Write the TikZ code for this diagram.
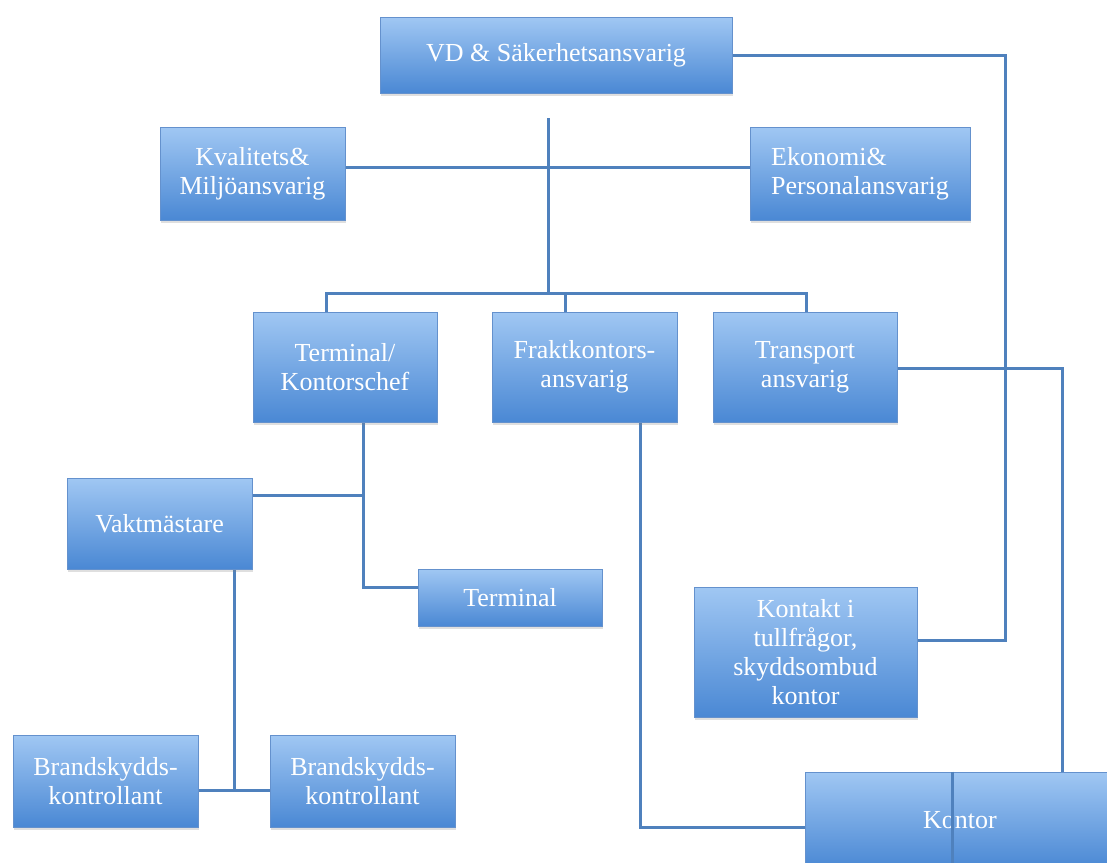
\documentclass[tikz,border=0pt]{standalone}
\usepackage{fontspec}
\setmainfont{Liberation Serif}
\usetikzlibrary{shadows}
\pgfdeclarelayer{background}
\pgfsetlayers{background,main}
\definecolor{boxtop}{RGB}{160,199,243}
\definecolor{boxbot}{RGB}{74,136,212}
\definecolor{boxline}{RGB}{100,145,205}
\definecolor{conncol}{RGB}{79,129,189}
\tikzset{
  orgbox/.style={rectangle, draw=boxline, line width=0.6pt,
    top color=boxtop, bottom color=boxbot, text=white,
    font=\fontsize{26}{29}\selectfont, align=center, inner sep=0pt,
    drop shadow={shadow xshift=1pt, shadow yshift=-3pt, opacity=0.25}},
  connector/.style={draw=conncol, line width=3pt},
}
\begin{document}
\begin{tikzpicture}[x=1pt, y=-1pt]
\useasboundingbox (0,0) rectangle (1107,862);
\clip (0,0) rectangle (1107,862);
% boxes
\node[orgbox, minimum width=352pt, minimum height=76pt] (vd) at (556,55) {VD \& Säkerhetsansvarig};
\node[orgbox, minimum width=185pt, minimum height=93pt] (kval) at (252.5,173.5) {Kvalitets\&\\Miljöansvarig};
\node[orgbox, minimum width=220pt, minimum height=93pt, align=left] (ekon) at (860,173.5) {Ekonomi\&\\Personalansvarig};
\node[orgbox, minimum width=184pt, minimum height=110pt] (tk) at (345,367) {Terminal/\\Kontorschef};
\node[orgbox, minimum width=185pt, minimum height=110pt] (frakt) at (584.5,367) {Fraktkontors-\\ansvarig};
\node[orgbox, minimum width=184pt, minimum height=110pt] (trans) at (805,367) {Transport\\ansvarig};
\node[orgbox, minimum width=185pt, minimum height=91pt] (vakt) at (159.5,523.5) {Vaktmästare};
\node[orgbox, minimum width=184pt, minimum height=57pt] (term) at (510,597.5) {Terminal};
\node[orgbox, minimum width=223pt, minimum height=130pt] (kontakt) at (805.5,652) {Kontakt i\\tullfrågor,\\skyddsombud\\kontor};
\node[orgbox, minimum width=185pt, minimum height=92pt] (b1) at (105.5,781) {Brandskydds-\\kontrollant};
\node[orgbox, minimum width=185pt, minimum height=92pt] (b2) at (362.5,781) {Brandskydds-\\kontrollant};
\node[orgbox, minimum width=310pt, minimum height=96pt] (kontor) at (960,820) {Kontor};
% junction coordinates
\coordinate (vdcorner) at (1005,55);
\coordinate (spinetop) at (548,118);
\coordinate (spinebot) at (548,293);
\coordinate (busL) at (326,293);
\coordinate (busR) at (806,293);
\coordinate (busM) at (565,293);
\coordinate (tkjoin) at (363,495);
\coordinate (brjoin) at (234,790);
\begin{pgfonlayer}{background}
\draw[connector] (vd.east) -- (vdcorner) |- (kontakt.east |- 0,640);
\draw[connector] (spinetop) -- (spinebot);
\draw[connector] (kval.east |- 0,167) -- (ekon.west |- 0,167);
\draw[connector] (busL |- tk.north) -- (busL) -- (busR) -- (busR |- trans.north);
\draw[connector] (busM) -- (busM |- frakt.north);
\draw[connector] (trans.east |- 0,368) -| (kontor.north -| 1062,0);
\draw[connector] (tk.south -| 363,0) |- (term.west |- 0,587);
\draw[connector] (vakt.east |- tkjoin) -- (tkjoin);
\draw[connector] (vakt.south -| brjoin) -- (brjoin);
\draw[connector] (b1.east |- brjoin) -- (b2.west |- brjoin);
\draw[connector] (frakt.south -| 640,0) |- (kontor.west |- 0,827);
\end{pgfonlayer}
\draw[connector] (kontor.north -| 952,0) -- (kontor.south -| 952,0);
\end{tikzpicture}
\end{document}
